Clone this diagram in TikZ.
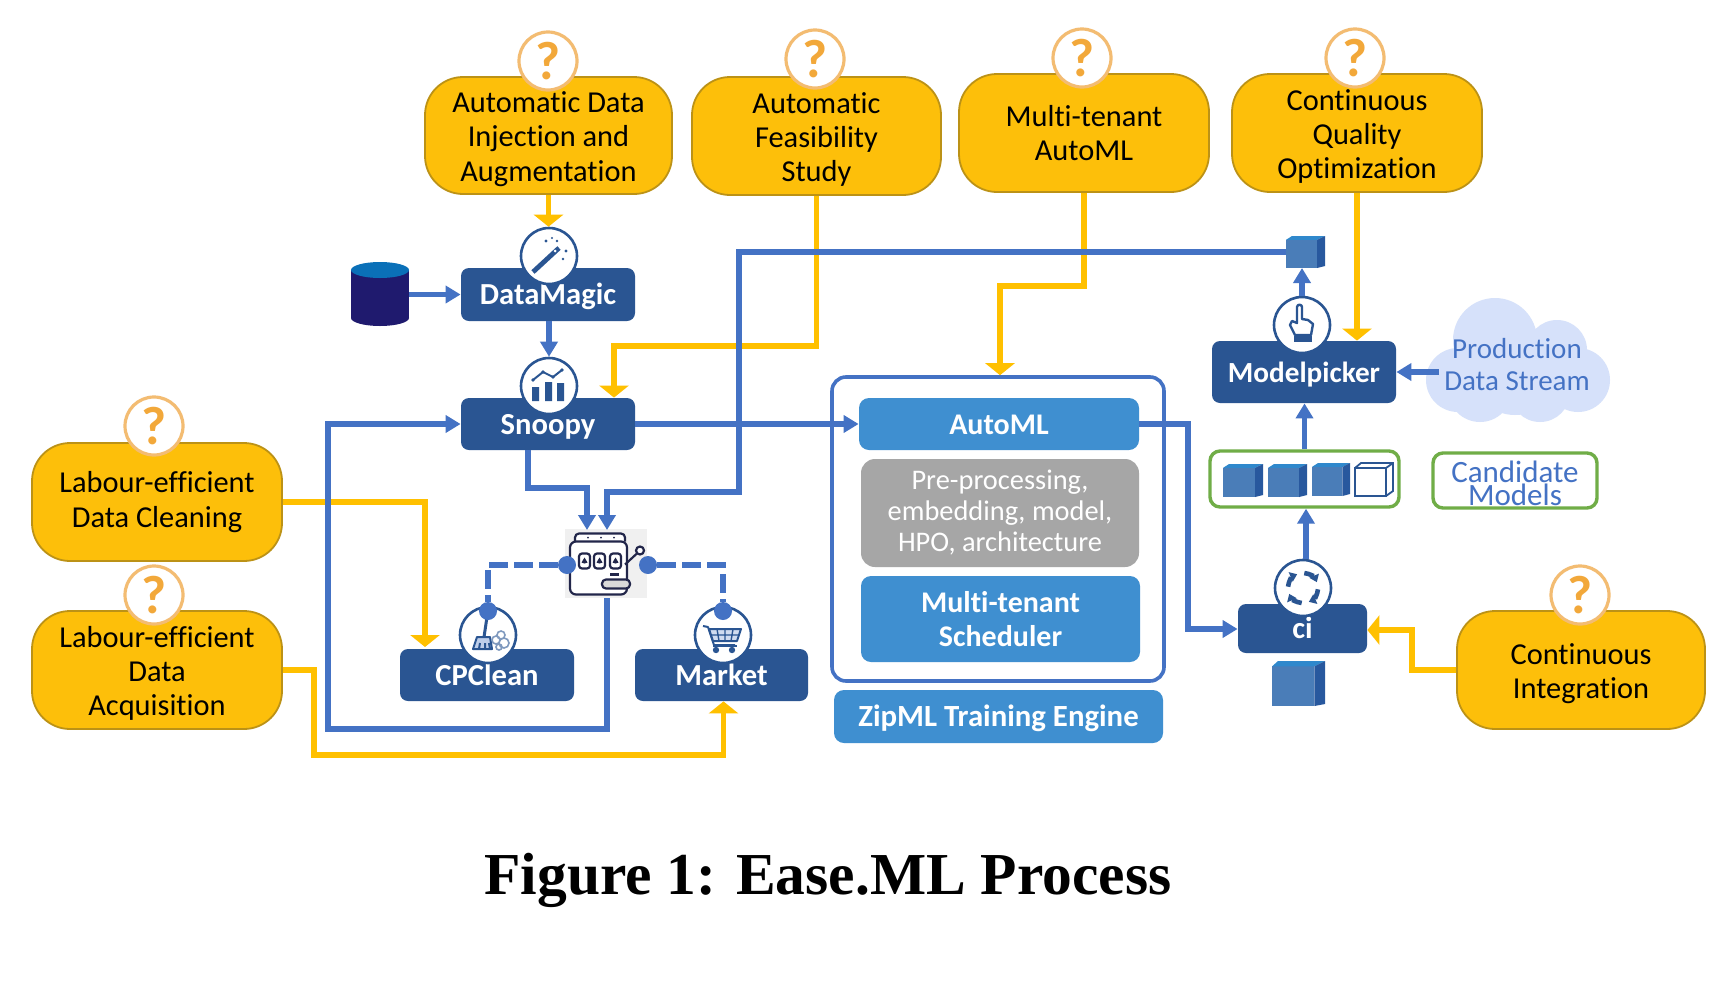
\documentclass[tikz,border=0pt]{standalone}
\usepackage{fontspec}
\setmainfont[Ligatures=CommonOff]{Carlito}
\newfontfamily\capfont{Liberation Serif}
\usetikzlibrary{arrows.meta}
\definecolor{yfill}{HTML}{FDBF0A}
\definecolor{yedge}{HTML}{BC9216}
\definecolor{yline}{HTML}{FFC000}
\definecolor{navy}{HTML}{2A5592}
\definecolor{lineblue}{HTML}{4472C4}
\definecolor{midblue}{HTML}{3F8FD0}
\definecolor{grayfill}{HTML}{A6A6A6}
\definecolor{okgreen}{HTML}{70AD47}
\definecolor{cloudfill}{HTML}{D6E1FA}
\definecolor{qedge}{HTML}{F3BC72}
\definecolor{qmk}{HTML}{F2A83A}
\definecolor{cubefront}{HTML}{4A7DB8}
\definecolor{cubetopc}{HTML}{2F88CC}
\definecolor{cuberight}{HTML}{28589E}
\definecolor{dbbody}{HTML}{1F1A6E}
\definecolor{dbtop}{HTML}{0A70B8}
\definecolor{slotdark}{HTML}{22264A}
\tikzset{
 ybox/.style={draw=yedge,line width=0.9pt,fill=yfill,rounded corners=19pt,align=center,text=black,font=\fontsize{15.2}{17.1}\selectfont,inner sep=0pt},
 qmark/.style={circle,draw=qedge,line width=1.6pt,fill=white,minimum size=29pt,inner sep=0pt,text=qmk,font=\fontsize{27}{27}\selectfont\bfseries},
 darkbox/.style={fill=navy,rounded corners=4pt,text=white,align=center,font=\fontsize{15.3}{18}\selectfont\bfseries,inner sep=0pt,text height=11pt,text depth=1pt},
 midbox/.style={fill=midblue,rounded corners=5pt,text=white,align=center,font=\fontsize{15}{17}\selectfont\bfseries,inner sep=0pt},
 midline/.style={midbox,text height=11pt,text depth=1pt},
 graybox/.style={fill=grayfill,rounded corners=7pt,text=white,align=center,font=\fontsize{14.2}{15.5}\selectfont,inner sep=0pt},
 outerbox/.style={draw=lineblue,line width=1.8pt,rounded corners=7pt,inner sep=0pt},
 greenbox/.style={draw=okgreen,line width=1.7pt,rounded corners=5pt,inner sep=0pt,align=center,text=lineblue,font=\fontsize{15.5}{11.6}\selectfont},
 ghost/.style={inner sep=0pt,outer sep=0pt},
 ring/.style={circle,draw=navy,line width=1.3pt,fill=white,minimum size=28pt,inner sep=0pt},
 cloudtext/.style={inner sep=0pt,align=center,text=lineblue,font=\fontsize{14.5}{16}\selectfont},
 yarrow/.style={draw=yline,line width=2.8pt,-{Triangle[length=6pt,width=14.5pt]}},
 barrow/.style={draw=lineblue,line width=2.8pt,-{Triangle[length=7.5pt,width=8.5pt]}},
 dashline/.style={draw=lineblue,line width=2.8pt,dash pattern=on 9.5pt off 3pt},
 dotnode/.style={circle,fill=lineblue,minimum size=9pt,inner sep=0pt},
 iconline/.style={draw=navy,line width=1pt,line join=round},
 slotline/.style={draw=slotdark,line width=1.1pt,line join=round},
}
\newcommand\dn{\rule{0pt}{14pt}}
% box from corners: style, name, x0,y0,x1,y1, text
\newcommand\cornerbox[7]{%
 \pgfmathsetmacro\cbx{(#3+#5)/2}\pgfmathsetmacro\cby{(#4+#6)/2}%
 \pgfmathsetmacro\cbw{(#5-#3)*0.5}\pgfmathsetmacro\cbh{(#6-#4)*0.5}%
 \node[#1,minimum width=\cbw pt,minimum height=\cbh pt] (#2) at (\cbx,\cby) {#7};}
% cube: name, x0,y0,x1,y1
\newcommand\solidcube[5]{%
 \pgfmathsetmacro\cubr{#4-(#4-#2)*0.2}\pgfmathsetmacro\cubt{#3+(#5-#3)*0.12}%
 \fill[cubefront] (#2,\cubt) rectangle (\cubr,#5);
 \fill[cubetopc] (#2,\cubt) -- (#2+6,#3) -- (#4,#3) -- (\cubr,\cubt) -- cycle;
 \fill[cuberight] (\cubr,\cubt) -- (#4,#3) -- (#4,#5-2) -- (\cubr,#5) -- cycle;
 \cornerbox{ghost}{#1}{#2}{#3}{#4}{#5}{}}
\begin{document}
\begin{tikzpicture}[x=0.5pt,y=-0.5pt]
\useasboundingbox (0,0) rectangle (1734,980);
\fill[white] (0,0) rectangle (1734,980);

% ---- boxes
\cornerbox{ybox}{y1}{425}{77}{672}{194}{\dn Automatic Data\\Injection and\\Augmentation}
\cornerbox{ybox}{y2}{692}{77}{941}{195}{\dn Automatic\\Feasibility\\Study}
\cornerbox{ybox}{y3}{959}{74}{1209}{192}{Multi-tenant\\AutoML}
\cornerbox{ybox}{y4}{1232}{74}{1482}{192}{\dn Continuous\\Quality\\Optimization}
\cornerbox{ybox}{y5}{32}{443}{282}{561}{Labour-efficient\\Data Cleaning}
\cornerbox{ybox}{y6}{32}{611}{282}{729}{\dn Labour-efficient\\Data\\Acquisition}
\cornerbox{ybox}{y7}{1457}{611}{1705}{729}{\dn Continuous\\Integration}

\cornerbox{darkbox}{dm}{461}{268}{635}{321}{DataMagic}
\cornerbox{darkbox}{sn}{461}{398}{635}{450}{Snoopy}
\cornerbox{darkbox}{cp}{400}{649}{574}{701}{CPClean}
\cornerbox{darkbox}{mk}{635}{649}{808}{701}{Market}
\cornerbox{darkbox,font=\fontsize{14.6}{18}\selectfont\bfseries}{mp}{1212}{341}{1396}{403}{Modelpicker}
\cornerbox{darkbox}{ci}{1238}{604}{1367}{653}{ci}

\cornerbox{outerbox}{outer}{832}{377}{1164}{681}{}
\cornerbox{midline}{auto}{859}{398}{1139}{450}{AutoML}
\cornerbox{graybox}{pre}{861}{459}{1139}{567}{Pre-processing,\\embedding, model,\\HPO, architecture}
\cornerbox{midbox}{sched}{861}{576}{1140}{662}{Multi-tenant\\Scheduler}
\cornerbox{midline,font=\fontsize{15.4}{17}\selectfont\bfseries}{zip}{834}{690}{1163}{743}{ZipML Training Engine}

% database
\cornerbox{ghost}{db}{351}{262}{409}{326}{}
\fill[dbbody] (351,270) rectangle (409,318);
\fill[dbbody] (380,318) ellipse [x radius=29,y radius=8];
\fill[dbtop] (380,270) ellipse [x radius=29,y radius=8];

% cubes
\solidcube{cubetop}{1286}{236}{1325}{268}
\solidcube{cubeci}{1272}{661}{1325}{706}
\cornerbox{greenbox}{cand}{1210}{451}{1399}{507}{}
\solidcube{c1}{1223}{464}{1263}{497}
\solidcube{c2}{1268}{464}{1307}{497}
\solidcube{c3}{1312}{463}{1350}{496}
\cornerbox{ghost}{c4}{1355}{463}{1393}{496}{}
\draw[draw=navy,line width=0.9pt,fill=white] (1355,468) rectangle (1386,496);
\draw[draw=navy,line width=0.9pt] (1355,468) -- (1361,463) -- (1393,463) -- (1393,491) -- (1386,496) (1386,468) -- (1393,463);
\cornerbox{greenbox}{candl}{1433}{453}{1597}{508}{\rule{0pt}{13.5pt}Candidate\\Models}

% cloud
\fill[cloudfill] (1495,340) circle [radius=42] (1557,350) circle [radius=30] (1578,380) circle [radius=32]
 (1540,392) circle [radius=30] (1480,390) circle [radius=32] (1458,380) circle [radius=32] (1515,370) circle [radius=45];
\node[ghost,minimum width=78pt] (cloud) at (1517,372) {};
\node[cloudtext] (cloudlabel) at (1517,365) {Production\\Data Stream};

% icon rings, slot machine
\node[ring] (icdm) at (549,256) {};
\node[ring] (icsn) at (549,386) {};
\node[ring] (iccp) at (488,635) {};
\node[ring] (icmk) at (723,635) {};
\node[ring] (icmp) at (1302,325) {};
\node[ring] (icci) at (1303,588) {};
\cornerbox{ghost,fill=black!6}{slot}{565}{529}{647}{598}{}

% named bends
\coordinate (b2) at (614,346);
\coordinate (b3) at (1000,286);
\coordinate (b5) at (425,647);
\coordinate (b6) at (314,755);
\coordinate (b7) at (1412,630);
\coordinate (b8) at (1188,629);
\coordinate (s2) at (587,530);
\coordinate (s3) at (528,450);
\coordinate (b9) at (587,488);
\coordinate (b10) at (739,492);
\coordinate (b11) at (328,729);
\coordinate (s4) at (607,530);

% ---- yellow connectors
\draw[yarrow] (y1.south) -- (y1.south |- icdm.north);
\draw[yarrow] (y2.south) |- (b2) -- (b2 |- sn.north);
\draw[yarrow] (y3.south) |- (b3) -- (b3 |- outer.north);
\draw[yarrow] (y4.south) -- (y4.south |- mp.north);
\draw[yarrow] (y5.east) -| (b5);
\draw[yarrow] (y6.east) -| (b6) -| ([xshift=1pt]mk.south);
\draw[yarrow] (y7.west) -| (b7) -- (ci.east |- b7);

% ---- blue connectors
\draw[barrow] (db.east |- dm.west) -- (dm.west);
\draw[barrow] (dm.south -| icsn) -- (icsn.north);
\draw[barrow] (sn.east) -- (auto.west);
\draw[barrow] (auto.east) -| (b8) -- (ci.west |- b8);
\draw[barrow] (s3) |- (b9) -- (s2);
\draw[barrow] (cubetop.west) -| (b10) -| (s4);
\draw[barrow] (slot.south -| s4) |- (b11) |- (sn.west);
\draw[barrow] ([xshift=1.5pt]icci.north) -- ([xshift=1.5pt]icci.north |- cand.south);
\draw[barrow] (cand.north) -- (cand.north |- mp.south);
\draw[barrow] (icmp.north) -- (icmp.north |- cubetop.south);
\draw[barrow] (cloud.west) -- (mp.east |- cloud.west);

% ---- question marks (on top of the yellow boxes)
\node[qmark] (q1) at (548,61) {?};
\node[qmark] (q2) at (815,59) {?};
\node[qmark] (q3) at (1082,58) {?};
\node[qmark] (q4) at (1355,58) {?};
\node[qmark] (q5) at (154,426) {?};
\node[qmark] (q6) at (154,595) {?};
\node[qmark] (q7) at (1580,595) {?};

% ---- icons
\begin{scope}[shift={(icdm)}]
 \draw[draw=navy,line width=2.4pt] (-16,16) -- (10,-8);
 \fill[white] (6,-5) circle [radius=1.5];
 \fill[navy] (-3,-15) circle [radius=1.6] (8,-15) circle [radius=1.4] (17,-5) circle [radius=1.6] (14,3) circle [radius=1.3] (3,-18) circle [radius=1.1];
\end{scope}
\begin{scope}[shift={(icsn)}]
 \fill[navy] (-17,1) rectangle (-10,15) (-4,-4) rectangle (3,15) (8,-3) rectangle (15,15);
 \draw[iconline] (-16,-6) -- (-6,-14) -- (4,-9) -- (13,-16);
 \fill[navy] (-16,-6) circle [radius=1.8] (-6,-14) circle [radius=1.8] (4,-9) circle [radius=1.8] (13,-16) circle [radius=1.8];
\end{scope}
\begin{scope}[shift={(iccp)}]
 \draw[draw=navy,line width=1.5pt] (-1,-18) -- (-4,2);
 \draw[iconline,fill=lineblue!35] (-11,2) -- (2,2) -- (4,14) -- (-15,14) -- cycle;
 \draw[iconline] (-8,8) -- (-9,14) (-3,8) -- (-3,14) (1,8) -- (2,14);
 \draw[draw=navy!60,line width=0.8pt] (8,5) circle [radius=4] (13,0) circle [radius=4] (16,8) circle [radius=5] (11,12) circle [radius=3];
\end{scope}
\begin{scope}[shift={(icmk)}]
 \draw[iconline] (-20,-9) -- (-15,-8) -- (-9,10) -- (12,10);
 \draw[iconline,fill=lineblue!25] (-14,-6) -- (18,-6) -- (14,6) -- (-10,6) -- cycle;
 \draw[draw=navy,line width=0.7pt] (-6,-6) -- (-4,6) (2,-6) -- (2,6) (10,-6) -- (8,6) (-12,0) -- (16,0);
 \fill[navy] (-7,15) circle [radius=3.2] (9,15) circle [radius=3.2];
 \draw[iconline] (-10,11) -- (14,11);
\end{scope}
\begin{scope}[shift={(icmp)}]
 \draw[iconline,line width=1.2pt,fill=white] (-5,-18) -- (-5,-2) -- (-10,-4) -- (-12,0) -- (-7,10) -- (9,10) -- (11,-1) -- (6,-5) -- (0,-6) -- (0,-18) .. controls (0,-21) and (-5,-21) .. (-5,-18) -- cycle;
 \fill[navy] (-8,11) rectangle (10,17);
\end{scope}
\begin{scope}[shift={(icci)}]
 \foreach \a in {5,95,185,275}
  \draw[draw=navy,line width=2.3pt,-{Triangle[length=3.5pt,width=5pt]}] (\a:15) arc [start angle=\a,end angle=\a+62,radius=15];
\end{scope}

% slot machine
\begin{scope}[shift={(slot)}]
 \draw[slotline,fill=white,rounded corners=2pt] (-31,-22) -- (-31,-30) -- (19,-30) -- (19,-22);
 \draw[slotline,fill=white,rounded corners=3pt] (-36,-22) rectangle (21,31);
 \foreach \x in {-27,-12,4} {
  \draw[slotline,rounded corners=1.5pt] (\x,-10) rectangle (\x+11,5);
  \fill[slotdark] (\x+5.5,-6) -- (\x+8.5,-1) -- (\x+5.5,0) -- (\x+2.5,-1) -- cycle;
 }
 \draw[slotline] (19,1) -- (32,-11);
 \draw[slotline,fill=white] (34,-13) circle [radius=4];
 \draw[slotline] (4,11) -- (13,11);
 \draw[slotline,fill=black!15,rounded corners=2pt] (-4,16) rectangle (24,25);
 \fill[slotdark] (-18,-26) circle [radius=1] (-5,-26) circle [radius=1] (8,-26) circle [radius=1];
\end{scope}

% ---- dashed selections with dots
\node[dotnode] (d1) at (567,565) {};
\node[dotnode] (d2) at (648,565) {};
\node[dotnode] (d3) at (488,611) {};
\node[dotnode] (d4) at (723,611) {};
\draw[dashline] (d1) -| (d3);
\draw[dashline] (d2) -| (d4);

% caption
\node[ghost,font=\capfont\bfseries\fontsize{29.75}{32}\selectfont] (caption) at (828,880) {Figure 1: Ease.ML Process};
\end{tikzpicture}
\end{document}
